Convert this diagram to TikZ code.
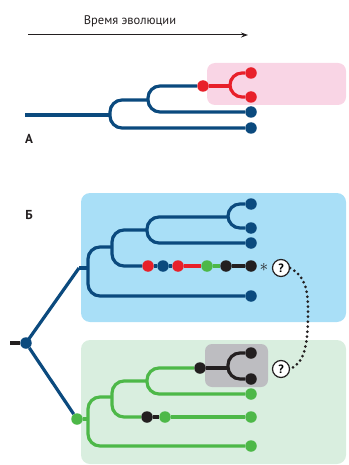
\documentclass[tikz,border=0pt]{standalone}
\usepackage{fontspec}
\setmainfont{PT Sans}
\usetikzlibrary{arrows.meta}
\definecolor{cblue}{HTML}{0B4A7E}
\definecolor{cred}{HTML}{E8202A}
\definecolor{cgreen}{HTML}{4DB848}
\definecolor{cblack}{HTML}{231F20}
\definecolor{cpink}{HTML}{F9D5E5}
\definecolor{clblue}{HTML}{A9DFF7}
\definecolor{clgreen}{HTML}{D9EEDF}
\definecolor{cgray}{HTML}{BDBDC1}
\begin{document}
\begin{tikzpicture}[x=1pt,y=-1pt,
  br/.style={line width=3.2pt, rounded corners=12pt},
  ln/.style={line width=3.2pt},
  dot/.style={circle, inner sep=0pt, minimum size=11.5pt, fill=#1},
  qm/.style={circle, draw=cblack, line width=1.2pt, fill=white, inner sep=0pt, minimum size=17pt, font=\bfseries\fontsize{12}{12}\selectfont},
  lbl/.style={font=\bfseries\fontsize{13}{15}\selectfont, text=cblack}
]
\useasboundingbox (0,0) rectangle (348,465);

% title and time arrow
\node[font=\fontsize{12.5}{15}\selectfont, text=cblack] (title) at (130,21) {Время эволюции};
\coordinate (t0) at (28,35);
\coordinate (t1) at (248,35);
\draw[line width=1pt, cblack, -{Stealth[length=7pt,width=5pt]}] (t0) -- (t1);

% ---------- Panel A ----------
\fill[cpink, rounded corners=8pt] (207,63) rectangle (346,105);
\node[lbl] (labA) at (29,139) {А};
\coordinate (a0) at (25,115);
\node[dot=cred]  (ar)  at (203,86) {};
\node[dot=cred]  (ar1) at (251,73) {};
\node[dot=cred]  (ar2) at (251,97) {};
\node[dot=cblue] (a1)  at (251,112) {};
\node[dot=cblue] (a2)  at (251,128) {};
\draw[br, cblue] (a0) -- (110,115);
\draw[br, cblue] (148,100) -- (110,100) -- (110,128) -- (a2);
\draw[br, cblue] (ar) -- (148,86) -- (148,112) -- (a1);
\draw[br, cred] (ar) -- (230,86);
\draw[br, cred] (ar1) -- (230,73) -- (230,97) -- (ar2);

% ---------- Panel B ----------
\fill[clblue, rounded corners=9pt] (81,193) rectangle (346,322);
\fill[clgreen, rounded corners=9pt] (81,340) rectangle (346,464);
\fill[cgray, rounded corners=7pt] (205,344) rectangle (268,387);
\node[lbl] (labB) at (29,215) {Б};

% root
\coordinate (s0) at (10,343);
\node[dot=cblue] (root) at (26,343) {};
\node[dot=cgreen] (gr) at (77,419) {};
\coordinate (bu) at (79,268);
\draw[ln, cblack] (s0) -- (root);
\draw[ln, cblue] (root.center) -- (bu);
\draw[ln, cblue] (root) -- (gr);

% upper (blue) tree
\node[dot=cblue] (u1) at (251,204) {};
\node[dot=cblue] (u2) at (251,228) {};
\node[dot=cblue] (u3) at (251,243) {};
\node[dot=cred]   (m1) at (148,266) {};
\node[dot=cblue]  (m2) at (163,266) {};
\node[dot=cred]   (m3) at (178,266) {};
\node[dot=cgreen] (m4) at (207,266) {};
\node[dot=cblack] (m5) at (226,266) {};
\node[dot=cblack] (m6) at (251,266) {};
\node[dot=cblue] (u5) at (251,296) {};
\draw[br, cblue] (bu) -- (88,268);
\draw[br, cblue] (112,247) -- (88,247) -- (88,296) -- (u5);
\draw[br, cblue] (147,230) -- (112,230) -- (112,266) -- (m1);
\draw[br, cblue] (228,217) -- (147,217) -- (147,243) -- (u3);
\draw[br, cblue] (u1) -- (228,204) -- (228,228) -- (u2);
\draw[ln, cblue] (m1) -- (m2);
\draw[ln, cblue] (m2) -- (m3);
\draw[ln, cred] (m3) -- (m4);
\draw[ln, cgreen] (m4) -- (m5);
\draw[ln, cblack] (m5) -- (m6);
\node[text=cblack, inner sep=0pt] (ast) at (264,267) {\fontsize{16}{16}\selectfont$\ast$};
\node[qm] (q1) at (281,268) {?};

% lower (green) tree
\node[dot=cblack] (k0) at (200,368) {};
\node[dot=cblack] (k1) at (251,353) {};
\node[dot=cblack] (k2) at (251,379) {};
\node[dot=cgreen] (g1) at (251,394) {};
\node[dot=cblack] (k3) at (147,417) {};
\node[dot=cgreen] (g2) at (165,417) {};
\node[dot=cgreen] (g3) at (251,417) {};
\node[dot=cgreen] (g4) at (251,446) {};
\draw[br, cgreen] (gr) -- (88,419);
\draw[br, cgreen] (112,397) -- (88,397) -- (88,446) -- (g4);
\draw[br, cgreen] (147,381) -- (112,381) -- (112,417) -- (k3);
\draw[br, cgreen] (k0) -- (147,368) -- (147,394) -- (g1);
\draw[ln, cblack] (k3) -- (g2);
\draw[ln, cgreen] (g2) -- (g3);
\draw[br, cblack] (k0) -- (228,368);
\draw[br, cblack] (k1) -- (228,353) -- (228,379) -- (k2);
\node[qm] (q2) at (281,369) {?};

% dotted link
\draw[line width=3pt, cblack, line cap=round, dash pattern=on 0pt off 5pt]
  (q1.east) .. controls (305,276) and (308,290) .. (308,310)
  .. controls (308,345) and (305,362) .. (q2.east);
\end{tikzpicture}
\end{document}
